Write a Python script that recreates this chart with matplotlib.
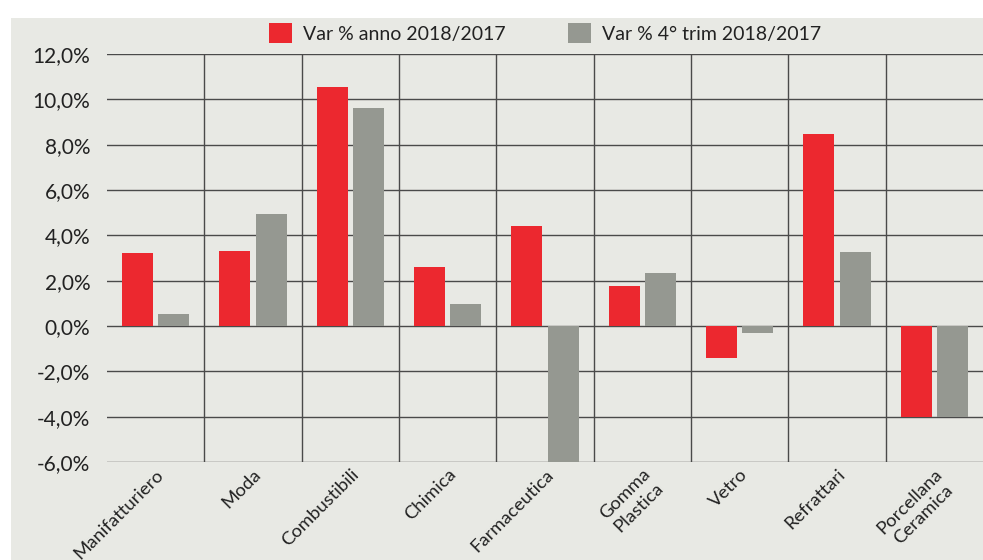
import matplotlib
matplotlib.use('Agg')
import matplotlib.pyplot as plt
from matplotlib.patches import Patch, Rectangle

plt.rcParams['font.family'] = ['Lato', 'DejaVu Sans']

settori = ['Manifatturiero', 'Moda', 'Combustibili', 'Chimica', 'Farmaceutica',
           'Gomma\nPlastica', 'Vetro', 'Refrattari', 'Porcellana\nCeramica']
var_anno = [3.2, 3.3, 10.55, 2.6, 4.4, 1.75, -1.4, 8.45, -4.0]
var_trim = [0.55, 4.95, 9.6, 0.95, -8.0, 2.35, -0.3, 3.25, -4.0]
yticks = [-6, -4, -2, 0, 2, 4, 6, 8, 10, 12]

red = '#ec282f'
grey = '#959891'
bg = '#e8e9e4'
line = '#4a4a4a'

fig = plt.figure(figsize=(9.83, 5.6), dpi=100)
fig.patch.set_facecolor('white')
fig.patches.append(Rectangle((11 / 983, 0), 1, 1 - 17.5 / 560, transform=fig.transFigure,
                             facecolor=bg, edgecolor='none', zorder=-10))

ax = fig.add_axes([107 / 983, 1 - 462 / 560, 1 - 107 / 983, (462 - 54) / 560])
ax.set_facecolor(bg)
ax.patch.set_alpha(0)

x = list(range(len(settori)))
w = 0.32
off = 0.187
ax.bar([i - off for i in x], var_anno, width=w, color=red, zorder=3)
ax.bar([i + off for i in x], var_trim, width=w, color=grey, zorder=3)

ax.set_xlim(-0.5, len(settori) - 0.5)
ax.set_ylim(-6, 12)

for v in yticks:
    ax.axhline(v, color=line, linewidth=1, zorder=2)
for i in range(1, len(settori)):
    ax.axvline(i - 0.5, color=line, linewidth=1, zorder=2)

for s in ax.spines.values():
    s.set_visible(False)

ax.set_yticks(yticks)
ax.set_yticklabels([f'{v:.1f}%'.replace('.', ',') for v in yticks], fontsize=15, color='#222222')
ax.tick_params(axis='y', length=0, pad=12)
ax.set_xticks(x)
ax.set_xticklabels(settori, rotation=45, ha='right', rotation_mode='anchor',
                   fontsize=13.3, color='#222222', multialignment='center')
ax.tick_params(axis='x', length=0, pad=3)

handles = [Patch(facecolor=red, label='Var % anno 2018/2017'),
           Patch(facecolor=grey, label='Var % 4° trim 2018/2017')]
fig.legend(handles=handles, loc='center', bbox_to_anchor=(545 / 983, 1 - 33 / 560),
           ncol=2, frameon=False, fontsize=14, handlelength=1.2, handleheight=1.2,
           handletextpad=0.55, columnspacing=3.2, labelcolor='#222222')

fig.savefig('out.png', dpi=100)
